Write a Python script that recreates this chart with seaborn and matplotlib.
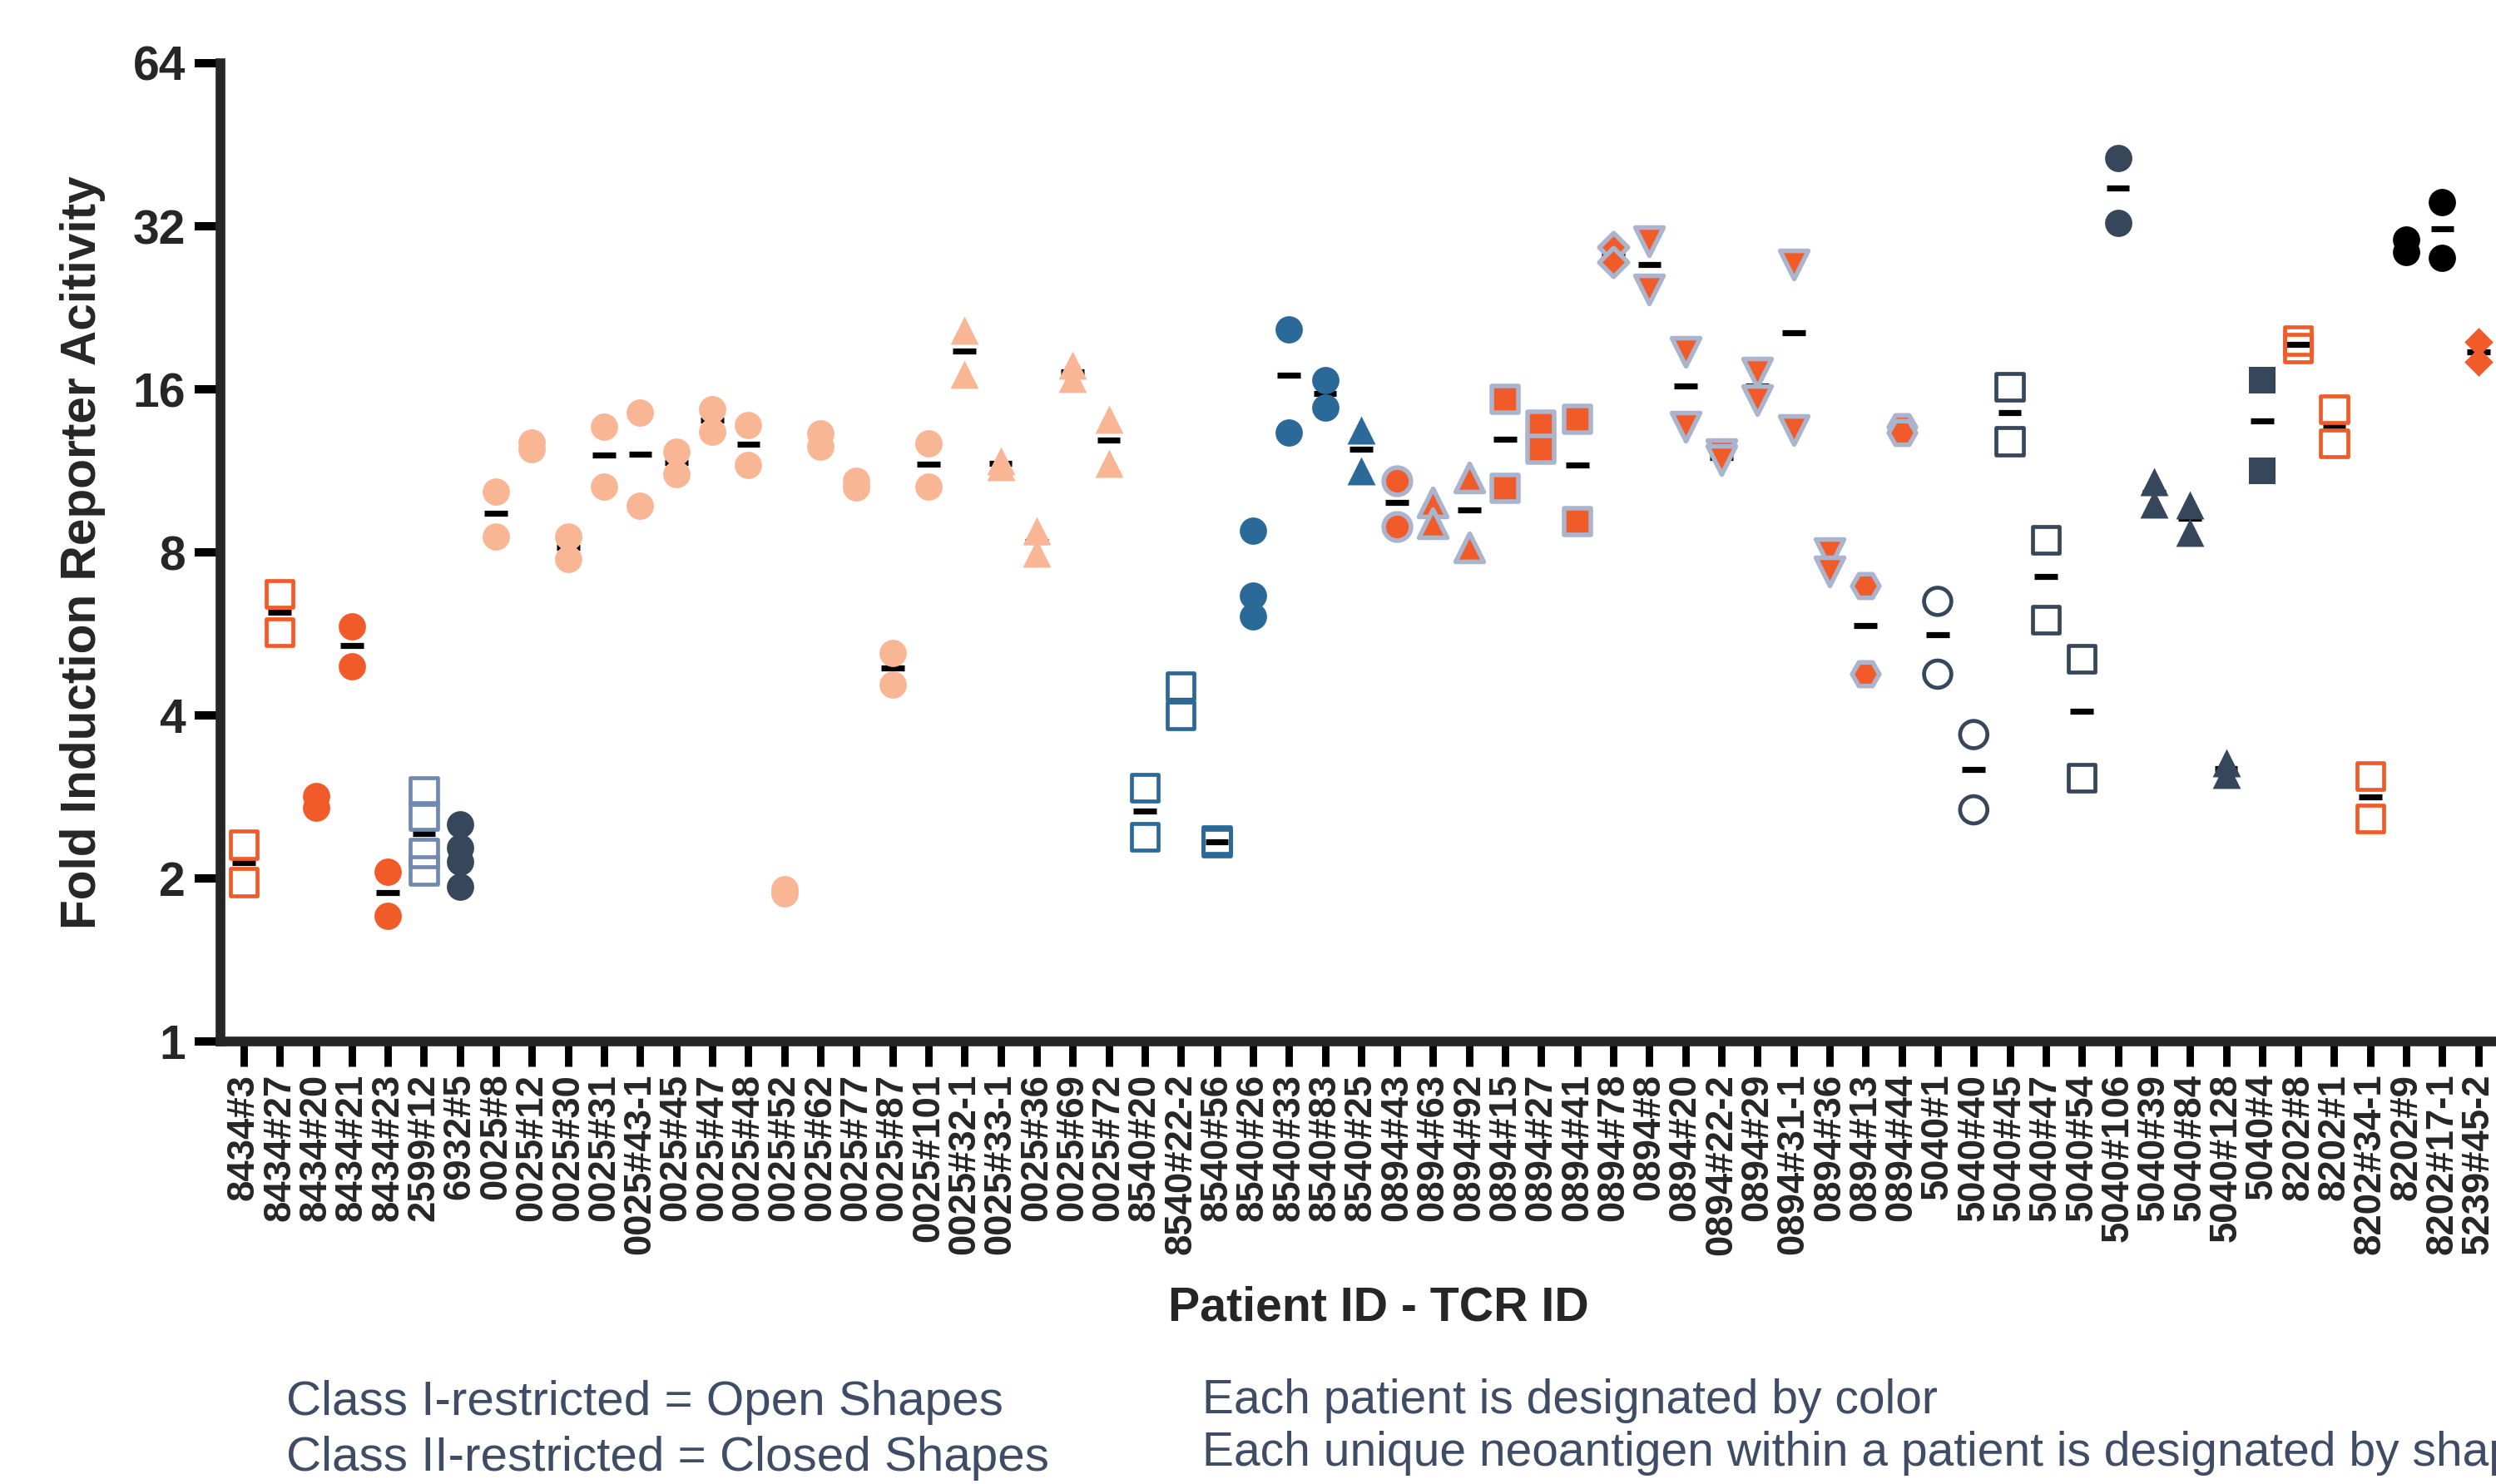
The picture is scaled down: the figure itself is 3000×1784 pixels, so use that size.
import numpy as np
import pandas as pd
import matplotlib
matplotlib.use("Agg")
import matplotlib.pyplot as plt
import seaborn as sns

# TCRs in plotting order
tcr_ids = ["8434#3", "8434#27", "8434#20", "8434#21", "8434#23", "2599#12", "6932#5",
           "0025#8", "0025#12", "0025#30", "0025#31", "0025#43-1", "0025#45", "0025#47",
           "0025#48", "0025#52", "0025#62", "0025#77", "0025#87", "0025#101", "0025#32-1",
           "0025#33-1", "0025#36", "0025#69", "0025#72",
           "8540#20", "8540#22-2", "8540#56", "8540#26", "8540#33", "8540#83", "8540#25",
           "0894#43", "0894#63", "0894#92", "0894#15", "0894#27", "0894#41", "0894#78",
           "0894#8", "0894#20", "0894#22-2", "0894#29", "0894#31-1", "0894#36", "0894#13",
           "0894#44",
           "5040#1", "5040#40", "5040#45", "5040#47", "5040#54", "5040#106", "5040#39",
           "5040#84", "5040#128", "5040#4",
           "8202#8", "8202#1", "8202#34-1", "8202#9", "8202#17-1", "5239#45-2"]

# replicate fold induction values per TCR
fold_values = [[2.31, 1.97], [6.70, 5.70], [2.84, 2.70], [5.84, 4.94], [2.06, 1.71],
               [2.90, 2.61, 2.23, 2.07], [2.52, 2.28, 2.15, 1.93],
               [10.35, 8.57], [12.77, 12.40], [8.55, 7.78], [13.66, 10.59], [14.52, 9.75],
               [12.29, 11.15], [14.69, 13.36], [13.76, 11.59], [1.91, 1.88], [13.27, 12.54],
               [10.86, 10.54], [5.21, 4.57], [12.74, 10.57], [20.6, 17.06],
               [11.83, 11.51], [8.78, 7.99], [17.74, 16.74], [14.10, 11.67],
               [2.94, 2.39], [4.53, 4.00], [2.355, 2.33], [8.77, 6.67, 6.10], [20.63, 13.33],
               [16.67, 14.79], [13.48, 11.33],
               [10.86, 8.94], [9.90, 9.07], [11.0, 8.19], [15.36, 10.52], [13.76, 12.43],
               [14.10, 9.11], [29.3, 27.5], [30.0, 24.5], [18.78, 13.66], [12.13, 11.86],
               [17.2, 15.3], [27.2, 13.48], [7.97, 7.38], [6.95, 4.78], [13.66, 13.3],
               [6.50, 4.77], [3.69, 2.68], [16.18, 12.83], [8.43, 6.02], [5.09, 3.07],
               [42.7, 32.5], [10.81, 9.81], [9.79, 8.71], [3.27, 3.11], [16.62, 11.33],
               [19.69, 19.07], [14.69, 12.71], [3.09, 2.58], [30.2, 28.7], [35.4, 28.0],
               [19.6, 18.0]]

# patient colour group for each TCR
patient = (["8434"] * 5 + ["2599", "6932"] + ["0025"] * 18 + ["8540"] * 7 + ["0894"] * 15
           + ["5040"] * 10 + ["8202"] * 3 + ["8202b"] * 2 + ["5239"])

# neoantigen shape for each TCR
neoantigen = (["square", "square", "circle", "circle", "circle", "square", "circle"]
              + ["circle"] * 13 + ["triangle"] * 5
              + ["square"] * 3 + ["circle"] * 3 + ["triangle"]
              + ["circle", "triangle", "triangle", "square", "square", "square", "diamond"]
              + ["triangle_down"] * 6 + ["hexagon"] * 2
              + ["circle", "circle", "square", "square", "square", "circle",
                 "triangle", "triangle", "triangle", "square"]
              + ["square"] * 3 + ["circle", "circle", "diamond"])

# MHC restriction (I = open, II = closed)
mhc_class = (["I", "I", "II", "II", "II", "I", "II"] + ["II"] * 18
             + ["I", "I", "I", "II", "II", "II", "II"] + ["II"] * 15
             + ["I"] * 5 + ["II"] * 5 + ["I"] * 3 + ["II"] * 3)

patient_colors = {"8434": "#F15A29", "2599": "#7189B1", "6932": "#36465B",
                  "0025": "#F9B695", "8540": "#2B6A98", "0894": "#F15A29",
                  "5040": "#36465B", "8202": "#F15A29", "8202b": "#000000",
                  "5239": "#F15A29"}
edge_colors = {"0894": "#AAB5CD"}
shape_markers = {"circle": "o", "square": "s", "triangle": "^",
                 "triangle_down": "v", "diamond": "D", "hexagon": "H"}
marker_size = {"o": 11.8, "s": 11.6, "^": 12.2, "v": 12.2, "D": 8.8, "H": 11.8}

sns.set_style("ticks")
plt.rcParams["font.family"] = ["Liberation Sans", "DejaVu Sans"]

rows = []
for i, t in enumerate(tcr_ids):
    for v in fold_values[i]:
        rows.append({"tcr": t, "value": v, "patient": patient[i],
                     "shape": neoantigen[i], "mhc": mhc_class[i]})
df = pd.DataFrame(rows)
df["tcr"] = pd.Categorical(df["tcr"], categories=tcr_ids)
df["pos"] = df["tcr"].cat.codes

fig = plt.figure(figsize=(15, 8.92), dpi=200)
ax = fig.add_axes([0.0883, 0.298, 0.9117, 0.6594])

# median bars behind the points
med = df.groupby("tcr", observed=True)["value"].median()
med_pos = np.arange(len(tcr_ids))
ax.hlines(med.loc[tcr_ids].values, med_pos - 0.32, med_pos + 0.32,
          color="black", lw=2.6, zorder=2)

for (p, shp, cls), sub in df.groupby(["patient", "shape", "mhc"]):
    color = patient_colors[p]
    m = shape_markers[shp]
    if cls == "I":
        face, edge, lw = "none", color, 1.7
    elif p in edge_colors:
        face, edge, lw = color, edge_colors[p], 2.0
    else:
        face, edge, lw = color, color, 0
    sns.scatterplot(data=sub, x="pos", y="value", marker=m, s=marker_size[m] ** 2,
                    facecolor=face, edgecolor=edge, linewidth=lw, ax=ax,
                    zorder=3, legend=False)

ax.set_yscale("log", base=2)
ax.set_ylim(1, 64)
ax.set_xlim(-0.646, 62.49)
yt = [1, 2, 4, 8, 16, 32, 64]
ax.set_yticks(yt)
ax.set_yticklabels([str(v) for v in yt], fontsize=20.5, fontweight="bold")
ax.yaxis.set_minor_locator(matplotlib.ticker.NullLocator())
ax.set_xticks(range(len(tcr_ids)))
ax.set_xticklabels(tcr_ids, rotation=90, fontsize=16.4, fontweight="bold")

for side in ["top", "right"]:
    ax.spines[side].set_visible(False)
for side in ["left", "bottom"]:
    ax.spines[side].set_linewidth(4.2)
ax.tick_params(axis="y", length=11, width=3.6, pad=4, color="black")
ax.tick_params(axis="x", length=10.8, width=3.2, pad=3, color="black")

ax.set_ylabel("Fold Induction Reporter Acitivity", fontsize=21.1, fontweight="bold")
ax.yaxis.set_label_coords(-0.0603, 0.5)
ax.set_xlabel("Patient ID - TCR ID", fontsize=20.6, fontweight="bold")
ax.xaxis.set_label_coords(0.509, -0.2725)
ax.xaxis.label.set_va("center")
ax.yaxis.label.set_va("center")

note_color = "#3E4C66"
fig.text(0.1147, 0.0549, "Class I-restricted = Open Shapes", fontsize=21, color=note_color, va="center")
fig.text(0.1147, 0.0174, "Class II-restricted = Closed Shapes", fontsize=21, color=note_color, va="center")
fig.text(0.4817, 0.056, "Each patient is designated by color", fontsize=20.5, color=note_color, va="center")
fig.text(0.4817, 0.0207, "Each unique neoantigen within a patient is designated by shape",
         fontsize=20.5, color=note_color, va="center")

fig.savefig("out.png", dpi=200)
